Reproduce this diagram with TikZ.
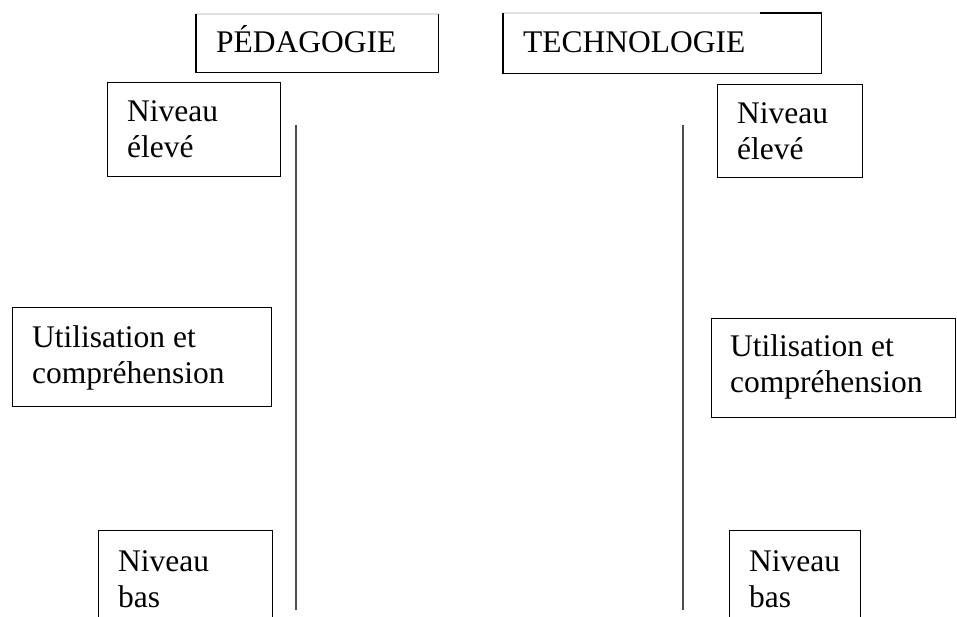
\documentclass[tikz,border=0pt]{standalone}
\usepackage{fontspec}
\setmainfont{Liberation Serif}
\begin{document}
\begin{tikzpicture}[x=1pt,y=-1pt,
  boxline/.style={draw=black,line width=1.3pt},
  faint/.style={draw=black!12,line width=1.3pt},
  axisline/.style={draw=black!70,line width=1.5pt},
  frame/.style={boxline,anchor=north west,inner sep=0pt,minimum width=#1},
  lbl/.style={anchor=base west,inner sep=0pt,align=left,font=\fontsize{31.5}{36}\selectfont}]
\useasboundingbox (0,0) rectangle (957,617);
\clip (0,0) rectangle (957,617);
% header boxes
\node[anchor=north west,inner sep=0pt,minimum width=242pt,minimum height=58pt] (ped) at (196,14) {};
\draw[faint] (ped.north west) -- (ped.north east);
\draw[boxline] (ped.north west) -- (ped.south west) -- (ped.south east) -- (ped.north east);
\node[lbl] (pedt) at (216,53) {PÉDAGOGIE};
\node[anchor=north west,inner sep=0pt,minimum width=318pt,minimum height=60pt] (tech) at (503,13) {};
\draw[faint] (tech.north west) -- (tech.north east);
\draw[boxline] (tech.north west) -- (tech.south west) -- (tech.south east) -- (tech.north east) -- ++(-61,0);
\node[lbl] (techt) at (523,53) {TECHNOLOGIE};
% left column (base anchor = last line)
\node[frame=173pt,minimum height=94pt] (ne1) at (107,82) {};
\node[lbl] (ne1t) at (127,158) {Niveau\\élevé};
\node[frame=259pt,minimum height=99pt] (ut1) at (12,307) {};
\node[lbl] (ut1t) at (32,383) {Utilisation et\\compréhension};
\node[frame=174pt,minimum height=120pt] (nb1) at (98,530) {};
\node[lbl] (nb1t) at (118,607) {Niveau\\bas};
\coordinate (l1t) at (296,125);
\coordinate (l1b) at (296,610);
\draw[axisline] (l1t) -- (l1b);
% right column
\node[frame=145pt,minimum height=93pt] (ne2) at (717,84) {};
\node[lbl] (ne2t) at (737,160) {Niveau\\élevé};
\node[frame=244pt,minimum height=99pt] (ut2) at (711,318) {};
\node[lbl] (ut2t) at (730,392) {Utilisation et\\compréhension};
\node[frame=131pt,minimum height=120pt] (nb2) at (729,530) {};
\node[lbl] (nb2t) at (749,607) {Niveau\\bas};
\coordinate (l2t) at (683,125);
\coordinate (l2b) at (683,610);
\draw[axisline] (l2t) -- (l2b);
\end{tikzpicture}
\end{document}
